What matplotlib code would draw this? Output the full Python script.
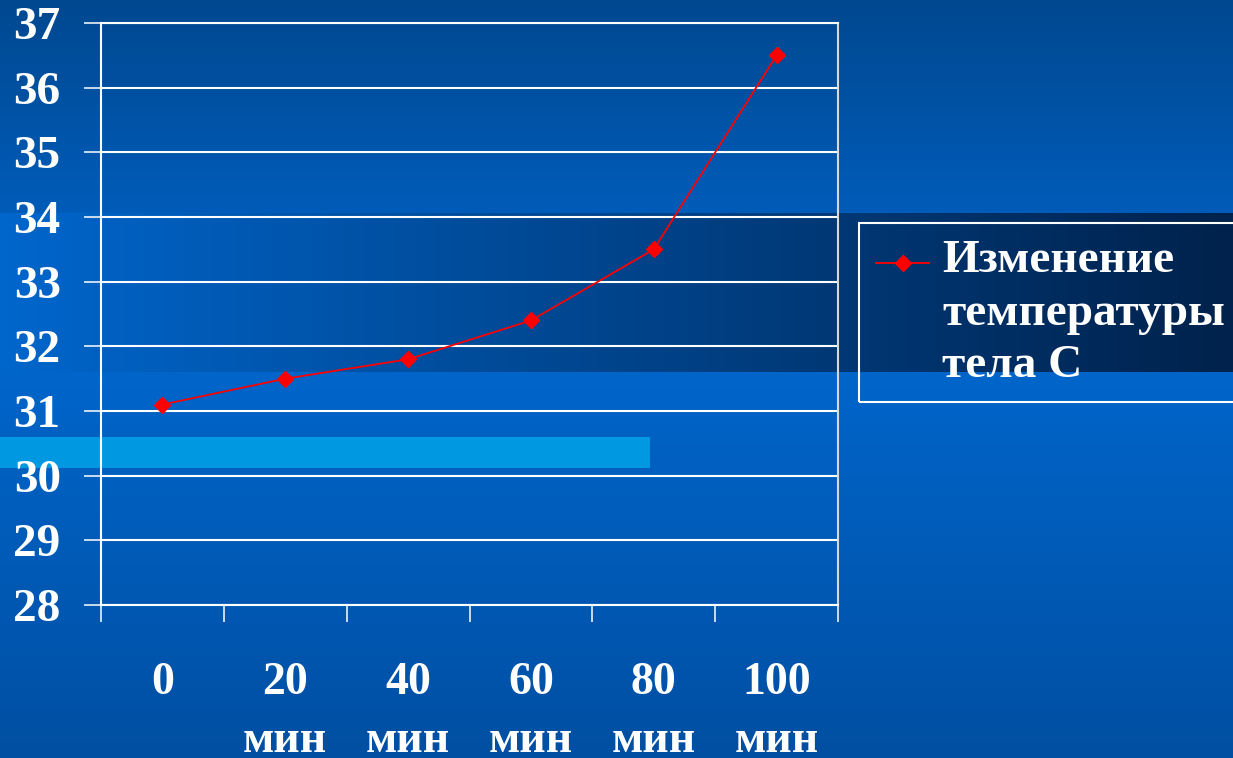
import numpy as np
import matplotlib
matplotlib.use("Agg")
import matplotlib.pyplot as plt
from matplotlib.patches import Rectangle
from matplotlib.lines import Line2D

# Body temperature readings every 20 minutes
categories = ["0", "20\nмин", "40\nмин", "60\nмин", "80\nмин", "100\nмин"]
temperature = [31.1, 31.5, 31.8, 32.4, 33.5, 36.5]
series_label = "Изменение\nтемпературы\nтела С"
y_ticks = [28, 29, 30, 31, 32, 33, 34, 35, 36, 37]

W, H = 1233, 758
plt.rcParams["font.family"] = ["Liberation Serif", "DejaVu Serif"]
plt.rcParams["font.weight"] = "bold"

fig = plt.figure(figsize=(W / 100, H / 100), dpi=100)


def hexrgb(h):
    h = h.lstrip("#")
    return np.array([int(h[i:i + 2], 16) for i in (0, 2, 4)]) / 255.0


# slide background: blue gradients with a dark band and a light strip
bg = np.zeros((H, W, 3))
top_a, top_b = hexrgb("#004890"), hexrgb("#005cb9")
t = np.linspace(0, 1, 213)[:, None]
bg[:213] = (top_a * (1 - t) + top_b * t)[:, None, :]
band_a, band_b = hexrgb("#0066cc"), hexrgb("#00224c")
s = np.linspace(0, 1, W)[:, None]
bg[213:372] = (band_a * (1 - s) + band_b * s)[None, :, :]
low_a, low_b = hexrgb("#0065ca"), hexrgb("#004fa2")
t = np.linspace(0, 1, H - 372)[:, None]
bg[372:] = (low_a * (1 - t) + low_b * t)[:, None, :]
bg[437:468, :650] = hexrgb("#0098e0")

ax_bg = fig.add_axes([0, 0, 1, 1], zorder=-1)
ax_bg.imshow(bg, aspect="auto", interpolation="bilinear")
ax_bg.axis("off")

# plot area
left, right, top, bottom = 101, 838, 23, 605
ax = fig.add_axes([left / W, 1 - bottom / H, (right - left) / W, (bottom - top) / H])
ax.set_facecolor("none")

x = np.arange(len(categories)) + 0.5
ax.plot(x, temperature, color="#ff0000", lw=1.3, marker="D", markersize=8.5,
        markeredgecolor="#ff0000", markerfacecolor="#ff0000", zorder=3)

ax.set_xlim(0, len(categories))
ax.set_ylim(y_ticks[0], y_ticks[-1])
ax.set_yticks(y_ticks)
ax.set_yticklabels([str(v) for v in y_ticks])
ax.grid(axis="y", color="white", lw=1.5)
ax.set_axisbelow(True)

ax.set_xticks(np.arange(len(categories) + 1))
ax.set_xticklabels([])
ax.set_xticks(x, minor=True)
ax.set_xticklabels(categories, minor=True, fontsize=33, linespacing=1.5,
                   color="white", va="top")
ax.tick_params(axis="x", which="major", length=12, width=1.1, color="white",
               direction="out")
ax.tick_params(axis="x", which="minor", length=0, pad=41)
ax.tick_params(axis="y", length=12, width=1.1, color="white", pad=17,
               labelsize=34, labelcolor="white")

for name in ("left", "bottom", "top"):
    ax.spines[name].set_color("white")
    ax.spines[name].set_linewidth(1.5)
ax.spines["right"].set_color("#d8d8d8")
ax.spines["right"].set_linewidth(1.5)

# legend box
fig.add_artist(Rectangle((859 / W, 1 - 402 / H), (W + 5 - 859) / W, (402 - 223) / H,
                         transform=fig.transFigure, facecolor="none",
                         edgecolor="white", lw=1.5, clip_on=False))
fig.add_artist(Line2D([876 / W, 929 / W], [1 - 263 / H, 1 - 263 / H],
                      transform=fig.transFigure, color="#ff0000", lw=1.3))
fig.add_artist(Line2D([903 / W], [1 - 263 / H], transform=fig.transFigure,
                      marker="D", markersize=8, color="#ff0000"))
fig.text(942 / W, 1 - 240 / H, series_label, color="white", fontsize=34,
         va="top", ha="left", linespacing=1.33)

fig.savefig("out.png", dpi=100)
